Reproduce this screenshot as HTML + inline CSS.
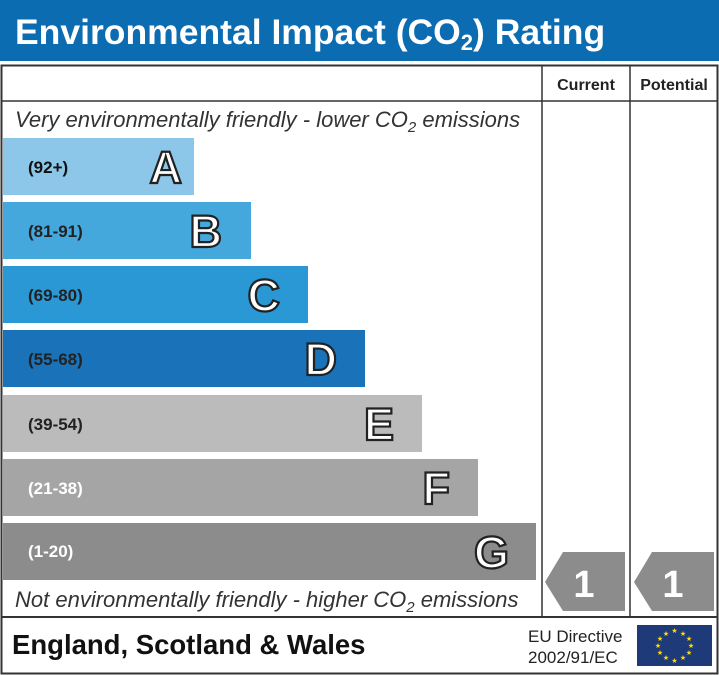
<!DOCTYPE html>
<html><head><style>body{margin:0;background:#fff}svg{display:block}</style></head><body>
<svg width="719" height="675" xmlns="http://www.w3.org/2000/svg" font-family="Liberation Sans, Arial, sans-serif">
<rect x="0" y="0" width="719" height="61" fill="#0b6cb1"/>
<text x="15" y="44" font-size="35.5" font-weight="bold" fill="#fff">Environmental Impact (CO<tspan font-size="22" dy="6">2</tspan><tspan dy="-6">) Rating</tspan></text>
<rect x="1.5" y="65.5" width="716" height="608" fill="#fff" stroke="#333" stroke-width="2"/>
<line x1="1" y1="101" x2="718" y2="101" stroke="#333" stroke-width="1.5"/>
<line x1="542" y1="65" x2="542" y2="617" stroke="#333" stroke-width="1.5"/>
<line x1="630" y1="65" x2="630" y2="617" stroke="#333" stroke-width="1.5"/>
<line x1="1" y1="617" x2="718" y2="617" stroke="#333" stroke-width="2"/>
<text x="586" y="90" font-size="16" font-weight="bold" text-anchor="middle" fill="#222">Current</text>
<text x="674" y="90" font-size="16" font-weight="bold" text-anchor="middle" fill="#222">Potential</text>
<text x="15" y="127" font-size="22" font-style="italic" fill="#333">Very environmentally friendly - lower CO<tspan font-size="15" dy="5">2</tspan><tspan dy="-5"> emissions</tspan></text>
<text x="15" y="607" font-size="22" font-style="italic" fill="#333">Not environmentally friendly - higher CO<tspan font-size="15" dy="5">2</tspan><tspan dy="-5"> emissions</tspan></text>
<g font-weight="bold">
<rect x="3" y="138" width="191" height="57" fill="#8cc6e8"/>
<text x="28" y="173" font-size="17" fill="#111">(92+)</text>
<text x="182" y="183" font-size="45" text-anchor="end" fill="#fff" stroke="#222" stroke-width="2.2">A</text>
<rect x="3" y="202" width="248" height="57" fill="#45a8dc"/>
<text x="28" y="237" font-size="17" fill="#222">(81-91)</text>
<text x="222" y="247" font-size="45" text-anchor="end" fill="#fff" stroke="#222" stroke-width="2.2">B</text>
<rect x="3" y="266" width="305" height="57" fill="#2a98d5"/>
<text x="28" y="301" font-size="17" fill="#222">(69-80)</text>
<text x="280" y="311" font-size="45" text-anchor="end" fill="#fff" stroke="#222" stroke-width="2.2">C</text>
<rect x="3" y="330" width="362" height="57" fill="#1a72b8"/>
<text x="28" y="365" font-size="17" fill="#222">(55-68)</text>
<text x="337" y="375" font-size="45" text-anchor="end" fill="#fff" stroke="#222" stroke-width="2.2">D</text>
<rect x="3" y="395" width="419" height="57" fill="#bbbbbb"/>
<text x="28" y="430" font-size="17" fill="#222">(39-54)</text>
<text x="394" y="440" font-size="45" text-anchor="end" fill="#fff" stroke="#222" stroke-width="2.2">E</text>
<rect x="3" y="459" width="475" height="57" fill="#a5a5a5"/>
<text x="28" y="494" font-size="17" fill="#fff">(21-38)</text>
<text x="450" y="504" font-size="45" text-anchor="end" fill="#fff" stroke="#222" stroke-width="2.2">F</text>
<rect x="3" y="523" width="533" height="57" fill="#8c8c8c"/>
<text x="28" y="557" font-size="17" fill="#fff">(1-20)</text>
<text x="509" y="568" font-size="45" text-anchor="end" fill="#fff" stroke="#222" stroke-width="2.2">G</text>
<polygon points="545,582 563,552 625,552 625,611 563,611" fill="#8c8c8c"/>
<text x="584" y="597" font-size="38" text-anchor="middle" fill="#fff">1</text>
<polygon points="634,582 652,552 714,552 714,611 652,611" fill="#8c8c8c"/>
<text x="673" y="597" font-size="38" text-anchor="middle" fill="#fff">1</text>
<text x="12" y="654" font-size="27.5" fill="#111">England, Scotland &amp; Wales</text>
</g>
<text x="528" y="642" font-size="17" fill="#222">EU Directive</text>
<text x="528" y="663" font-size="17" fill="#222">2002/91/EC</text>
<rect x="637" y="625" width="75" height="41" fill="#1f3a78"/>
<g fill="#ffdd00" font-size="7" text-anchor="middle">
<text x="674.5" y="633">★</text><text x="683" y="636">★</text><text x="689" y="641">★</text><text x="691" y="648">★</text><text x="689" y="655">★</text><text x="683" y="660">★</text><text x="674.5" y="663">★</text><text x="666" y="660">★</text><text x="660" y="655">★</text><text x="658" y="648">★</text><text x="660" y="641">★</text><text x="666" y="636">★</text>
</g>
</svg>
</body></html>
